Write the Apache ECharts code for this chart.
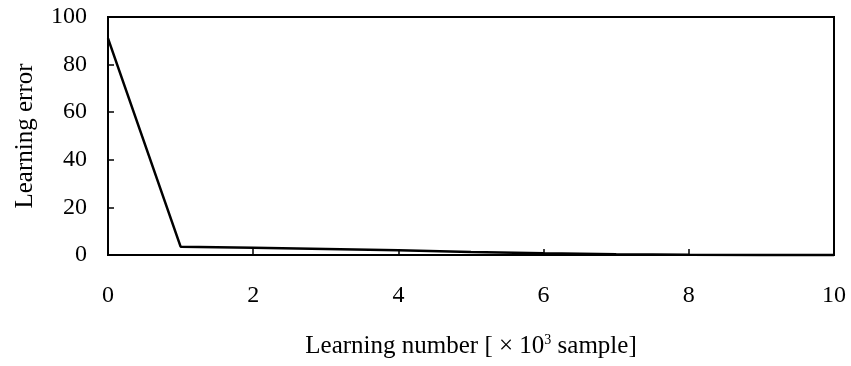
<!DOCTYPE html>
<html>
<head>
<meta charset="utf-8">
<script src="https://cdn.jsdelivr.net/npm/echarts@6/dist/echarts.min.js"></script>
<style>
  html, body { margin: 0; padding: 0; background: #fff; }
  #chart { width: 851px; height: 366px; }
</style>
</head>
<body>
<div id="chart"></div>
<script>
// Learning curve: error vs. number of training samples (thousands)
var learningNumber = [0, 1, 2, 3, 4, 5, 6, 7, 8, 9, 10];
var learningError  = [91, 3.5, 3.0, 2.5, 2.0, 1.3, 0.7, 0.3, 0.1, 0, 0];

var serif = '"Liberation Serif", "Times New Roman", serif';

var chart = echarts.init(document.getElementById('chart'), null, { renderer: 'canvas' });
chart.setOption({
  backgroundColor: '#fff',
  animation: false,
  grid: {
    left: 108, right: 17, top: 17, bottom: 111,
    show: true, borderColor: '#000', borderWidth: 2, backgroundColor: 'transparent'
  },
  xAxis: {
    type: 'value',
    min: 0, max: 10, interval: 2,
    name: 'Learning number [ \u00D7 10{sup|3} sample]',
    nameLocation: 'middle',
    nameGap: 78,
    nameTextStyle: {
      fontFamily: serif, fontSize: 25, color: '#000',
      rich: { sup: { fontFamily: serif, fontSize: 14, color: '#000', verticalAlign: 'top', padding: [0, 0, 12, 0] } }
    },
    axisLine: { show: true, onZero: false, lineStyle: { color: '#000', width: 2 } },
    axisTick: { show: true, inside: true, length: 6, lineStyle: { color: '#000', width: 1.5 } },
    axisLabel: { fontFamily: serif, fontSize: 24, color: '#000', margin: 29 },
    splitLine: { show: false }
  },
  yAxis: {
    type: 'value',
    min: 0, max: 100, interval: 20,
    name: 'Learning error',
    nameLocation: 'middle',
    nameGap: 70,
    nameTextStyle: { fontFamily: serif, fontSize: 25, color: '#000' },
    axisLine: { show: true, lineStyle: { color: '#000', width: 2 } },
    axisTick: { show: true, inside: true, length: 6, lineStyle: { color: '#000', width: 1.5 } },
    axisLabel: { fontFamily: serif, fontSize: 24, color: '#000', margin: 21 },
    splitLine: { show: false }
  },
  series: [{
    type: 'line',
    data: learningNumber.map(function (x, i) { return [x, learningError[i]]; }),
    showSymbol: false,
    lineStyle: { color: '#000', width: 2.5 },
    clip: false
  }]
});
</script>
</body>
</html>
